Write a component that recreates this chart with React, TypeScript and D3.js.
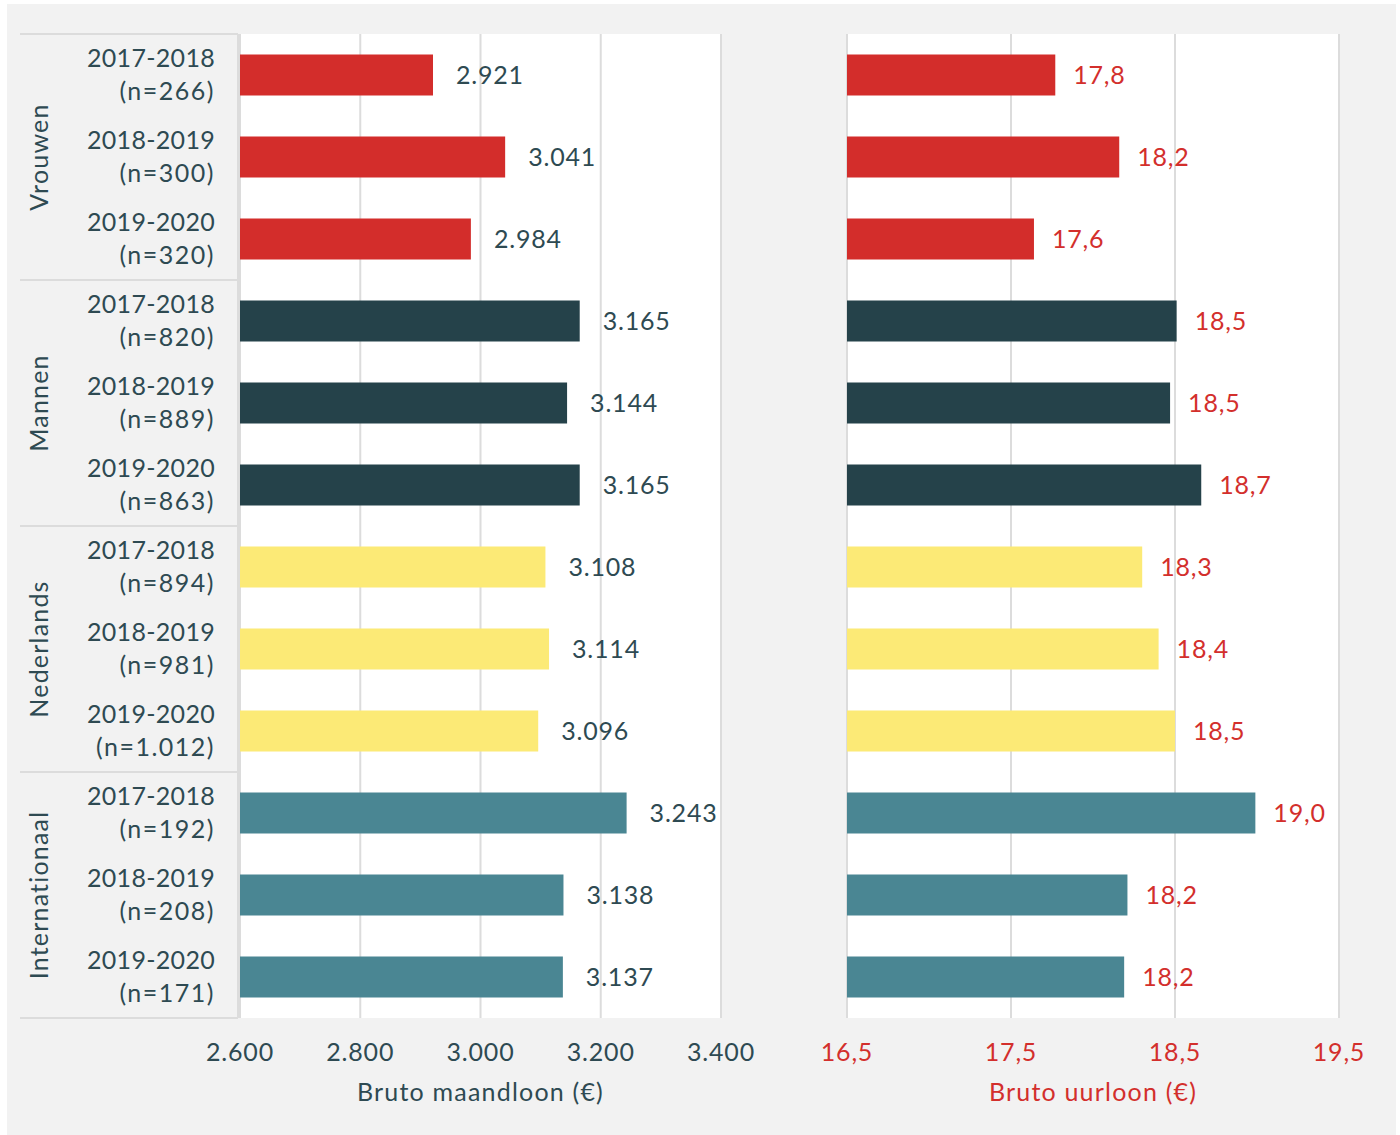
import React from 'react';
import { scaleBand, scaleLinear, formatLocale } from 'd3';

// groups, periods and sample sizes (rows are group x period)
const groups = ['Vrouwen', 'Mannen', 'Nederlands', 'Internationaal'];
const periods = ['2017-2018', '2018-2019', '2019-2020'];
const sampleSizes = ['266', '300', '320', '820', '889', '863', '894', '981', '1.012', '192', '208', '171'];

// bruto maandloon (€)
const monthlyWage = [2921, 3041, 2984, 3165, 3144, 3165, 3108, 3114, 3096, 3243, 3138, 3137];
// bruto uurloon (€)
const hourlyWage = [17.77, 18.16, 17.64, 18.51, 18.47, 18.66, 18.3, 18.4, 18.5, 18.99, 18.21, 18.19];

const groupColors = ['#d32d2b', '#25424a', '#fcea76', '#4a8693'];
const monthlyTicks = [2600, 2800, 3000, 3200, 3400];
const hourlyTicks = [16.5, 17.5, 18.5, 19.5];

const nl = formatLocale({ decimal: ',', thousands: '.', grouping: [3], currency: ['€', ''] });
const fmtMonth = nl.format(',d');
const fmtHour = nl.format('.1f');

const W = 1400;
const H = 1135;
const TEXT = '#2e4a52';
const RED = '#d32f2c';
const GRID = '#dcdcdc';
const FONT = 'Lato, "Open Sans", sans-serif';
const numStyle = { letterSpacing: '0.8px' };
const wordStyle = { letterSpacing: '1.2px' };

const App = () => {
  const rows = groups.flatMap((g, gi) => periods.map((p, pi) => ({
    id: `${g}-${p}`,
    group: gi,
    period: p,
    n: sampleSizes[gi * 3 + pi],
    month: monthlyWage[gi * 3 + pi],
    hour: hourlyWage[gi * 3 + pi],
  })));

  const top = 34;
  const bottom = 1018;

  const y = scaleBand()
    .domain(rows.map(d => d.id))
    .range([top, bottom])
    .paddingInner(0.5)
    .paddingOuter(0.25);

  const xLeft = scaleLinear().domain([2600, 3400]).range([240, 721]);
  const xRight = scaleLinear().domain([16.5, 19.5]).range([847, 1339]);

  const step = y.step();
  const groupTop = (gi) => top + gi * 3 * step;

  return (
    <svg width={W} height={H} style={{ position: 'absolute', left: 0, top: 0, fontFamily: FONT }}>
      <rect x={0} y={0} width={W} height={H} fill="#fff" />
      <rect x={7} y={4} width={1389} height={H - 4} fill="#f2f2f2" />

      {/* plot areas */}
      <rect x={xLeft(2600)} y={top} width={xLeft(3400) - xLeft(2600)} height={bottom - top} fill="#fff" />
      <rect x={xRight(16.5)} y={top} width={xRight(19.5) - xRight(16.5)} height={bottom - top} fill="#fff" />

      {/* gridlines */}
      {monthlyTicks.map(t => (
        <line key={'gl' + t} x1={xLeft(t)} x2={xLeft(t)} y1={top} y2={bottom} stroke={GRID} strokeWidth={2} />
      ))}
      {hourlyTicks.map(t => (
        <line key={'gr' + t} x1={xRight(t)} x2={xRight(t)} y1={top} y2={bottom} stroke={GRID} strokeWidth={2} />
      ))}

      {/* category label frame */}
      <line x1={238} x2={238} y1={top} y2={bottom} stroke={GRID} strokeWidth={2} />
      {[0, 1, 2, 3, 4].map(i => (
        <line key={'sep' + i} x1={20} x2={238} y1={groupTop(i)} y2={groupTop(i)} stroke={GRID} strokeWidth={2} />
      ))}

      {/* group labels */}
      {groups.map((g, gi) => {
        const cy = groupTop(gi) + 1.5 * step;
        return (
          <text key={g} transform={`translate(48,${cy}) rotate(-90)`} textAnchor="middle"
            fontSize={25} fill={TEXT} style={wordStyle}>{g}</text>
        );
      })}

      {/* row labels */}
      {rows.map(d => {
        const cy = y(d.id) + y.bandwidth() / 2;
        return (
          <g key={'lab' + d.id} fill={TEXT} fontSize={25} textAnchor="end">
            <text x={215} y={cy - 8} style={{ letterSpacing: '0.3px' }}>{d.period}</text>
            <text x={215} y={cy + 25} style={{ letterSpacing: '1.5px' }}>{`(n=${d.n})`}</text>
          </g>
        );
      })}

      {/* left bars */}
      {rows.map(d => (
        <g key={'bl' + d.id}>
          <rect x={xLeft(2600)} y={y(d.id)} width={xLeft(d.month) - xLeft(2600)} height={y.bandwidth()}
            fill={groupColors[d.group]} />
          <text x={xLeft(d.month) + 23} y={y(d.id) + y.bandwidth() / 2 + 9} fontSize={25} fill={TEXT}
            style={numStyle}>{fmtMonth(d.month)}</text>
        </g>
      ))}

      {/* right bars */}
      {rows.map(d => (
        <g key={'br' + d.id}>
          <rect x={xRight(16.5)} y={y(d.id)} width={xRight(d.hour) - xRight(16.5)} height={y.bandwidth()}
            fill={groupColors[d.group]} />
          <text x={xRight(d.hour) + 18} y={y(d.id) + y.bandwidth() / 2 + 9} fontSize={25} fill={RED}
            style={numStyle}>{fmtHour(d.hour)}</text>
        </g>
      ))}

      {/* axes */}
      {monthlyTicks.map(t => (
        <text key={'tl' + t} x={xLeft(t)} y={1061} textAnchor="middle" fontSize={25} fill={TEXT}
          style={numStyle}>{fmtMonth(t)}</text>
      ))}
      {hourlyTicks.map(t => (
        <text key={'tr' + t} x={xRight(t)} y={1061} textAnchor="middle" fontSize={25} fill={RED}
          style={numStyle}>{fmtHour(t)}</text>
      ))}
      <text x={(xLeft(2600) + xLeft(3400)) / 2} y={1101} textAnchor="middle" fontSize={25} fill={TEXT}
        style={wordStyle}>Bruto maandloon (€)</text>
      <text x={(xRight(16.5) + xRight(19.5)) / 2} y={1101} textAnchor="middle" fontSize={25} fill={RED}
        style={wordStyle}>Bruto uurloon (€)</text>
    </svg>
  );
};

export default App;
